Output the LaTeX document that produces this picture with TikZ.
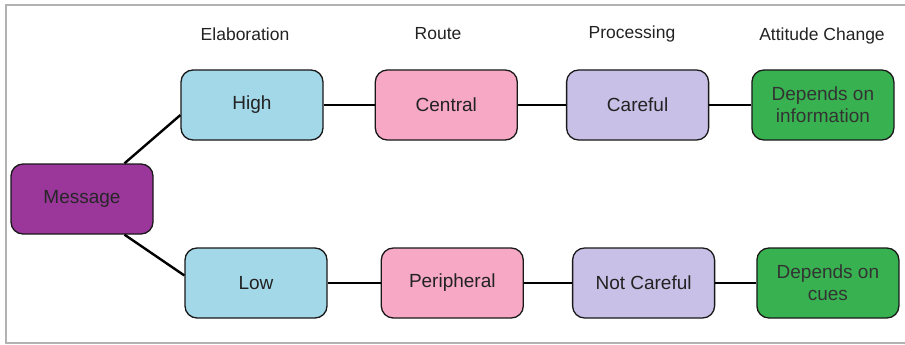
\documentclass[tikz,border=0pt]{standalone}
\usepackage{fontspec}
\setmainfont{Liberation Sans}
\usepackage{tikz}
\usetikzlibrary{positioning,calc}
\definecolor{elabfill}{RGB}{163,216,232}
\definecolor{routefill}{RGB}{246,168,196}
\definecolor{procfill}{RGB}{200,192,230}
\definecolor{attfill}{RGB}{56,178,80}
\definecolor{msgfill}{RGB}{155,55,155}
\definecolor{boxtext}{RGB}{34,34,34}
\tikzset{x=1pt, y=-1pt}
\tikzset{box/.style={draw=black!90, line width=1.3pt, rounded corners=12pt, minimum width=142pt, minimum height=70pt, inner sep=2pt, align=center, text=boxtext, font=\fontsize{19}{22}\selectfont}}
\tikzset{msg/.style={box, fill=msgfill, text=black!85}}
\tikzset{elab/.style={box, fill=elabfill}}
\tikzset{route/.style={box, fill=routefill}}
\tikzset{proc/.style={box, fill=procfill}}
\tikzset{att/.style={box, fill=attfill, text=black!80}}
\tikzset{head/.style={inner sep=0pt, font=\fontsize{17.5}{21}\selectfont, text=boxtext}}
\tikzstyle{link}=[line width=2.4pt, black]
\tikzstyle{frame}=[line width=1.5pt, black!30]

\begin{document}
\begin{tikzpicture}
        \useasboundingbox (0,0) rectangle (905,345);
        \draw[frame] (905,5) -- (6,5) -- (6,343) -- (905,343);
        \node (elaboration) [head] at (245,34) {Elaboration};
        \node (route) [head] at (438,34) {Route};
        \node (processing) [head] at (632,34) {Processing};
        \node (attitude) [head] at (822,36) {Attitude Change};
        \node (message) [msg] at (82,199) {Message};
        \node (high) [elab] at (252,105) {High};
        \node (central) [route, right= 51pt of high] {Central};
        \node (careful) [proc, right= 48pt of central] {Careful};
        \node (info) [att, right= 42pt of careful] {Depends on\\information};
        \node (low) [elab] at (256,283) {Low};
        \node (peripheral) [route, right= 53pt of low] {Peripheral};
        \node (notcareful) [proc, right= 48pt of peripheral] {Not Careful};
        \node (cues) [att, right= 41pt of notcareful] {Depends on\\cues};
        \draw[link] (message.40) -- (high.188);
        \draw[link] (message.-40) -- (low.174);
        \draw[link] (high) -- (central);
        \draw[link] (central) -- (careful);
        \draw[link] (careful) -- (info);
        \draw[link] (low) -- (peripheral);
        \draw[link] (peripheral) -- (notcareful);
        \draw[link] (notcareful) -- (cues);
\end{tikzpicture}
\end{document}
